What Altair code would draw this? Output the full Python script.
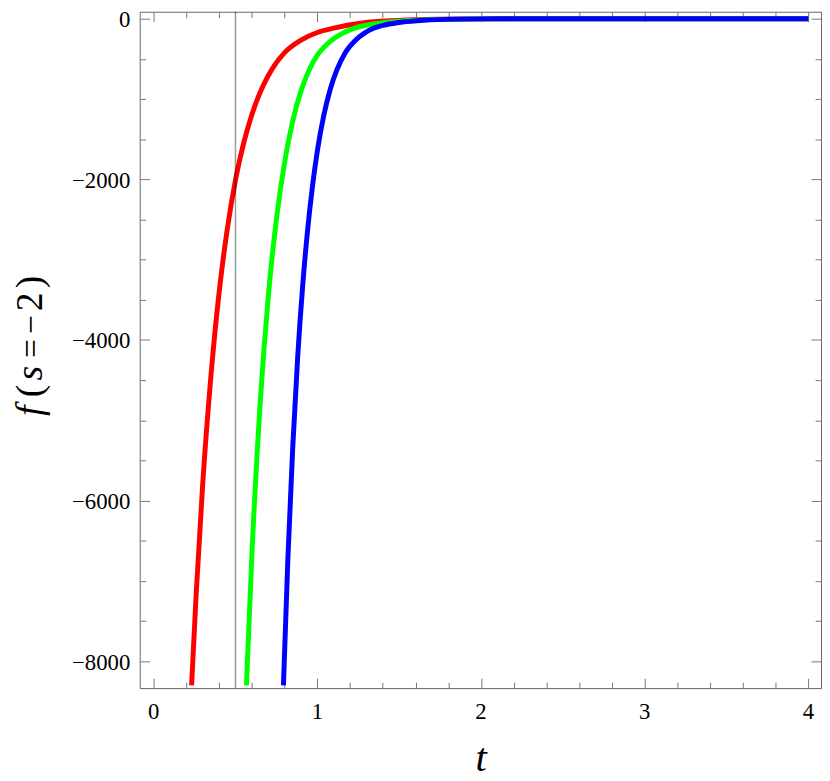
import altair as alt
import pandas as pd

# ---- data ----
red_t = [0.232, 0.26, 0.30, 0.35, 0.40, 0.45, 0.50, 0.55, 0.60, 0.65, 0.70, 0.75, 0.80,
         0.90, 1.00, 1.10, 1.25, 1.40, 1.60, 1.90, 2.50, 4.00]
red_f = [-8300, -7160, -5790, -4450, -3410, -2620, -2010, -1550, -1195, -921, -710, -548, -422,
         -267, -172, -118, -60, -31, -12, -3.2, -0.2, 0]

green_t = [0.567, 0.60, 0.65, 0.70, 0.75, 0.80, 0.85, 0.90, 0.95, 1.00, 1.05, 1.10, 1.15,
           1.22, 1.30, 1.40, 1.55, 1.75, 2.00, 2.50, 4.00]
green_f = [-8300, -6690, -4815, -3470, -2500, -1793, -1272, -902, -640, -454, -336, -250, -186,
           -123, -82, -50, -24, -8.7, -2.5, -0.3, 0]

blue_t = [0.793, 0.82, 0.85, 0.88, 0.91, 0.94, 0.97, 1.00, 1.04, 1.08, 1.12, 1.17, 1.23,
          1.29, 1.34, 1.42, 1.52, 1.65, 1.85, 2.10, 2.50, 4.00]
blue_f = [-8300, -6730, -5330, -4215, -3340, -2645, -2094, -1650, -1200, -872, -635, -427, -275,
          -177, -123, -76, -42, -19, -5.8, -1.8, -0.3, 0]

vline_t = [0.5]

x_labels = [0, 1, 2, 3, 4]
x_label_text = ["0", "1", "2", "3", "4"]
x_ticks = [0, 0.2, 0.4, 0.6, 0.8, 1, 1.2, 1.4, 1.6, 1.8, 2, 2.2, 2.4, 2.6, 2.8,
           3, 3.2, 3.4, 3.6, 3.8, 4]
y_labels = [0, -2000, -4000, -6000, -8000]
y_label_text = ["0", "−2000", "−4000", "−6000", "−8000"]
y_ticks = [0, -500, -1000, -1500, -2000, -2500, -3000, -3500, -4000, -4500,
           -5000, -5500, -6000, -6500, -7000, -7500, -8000]

x_title = "t"
# y title "f(s=−2)" in pieces: text, italic flag, font size, centre (px from page top)
y_title_parts = ["f", "(", "s", "=", "−", "2", ")"]
y_title_italic = [True, False, True, False, False, False, False]
y_title_size = [38, 38, 38, 34, 34, 38, 38]
y_title_pos = [411, 391, 373, 348, 324, 301, 281]

X_DOMAIN = [-0.085, 4.077]
Y_DOMAIN = [-8333, 86]
W, H = 688, 683
PLOT_LEFT, PLOT_TOP = 141, 8
FONT = "Liberation Serif"
TICK_COLOR = "#777777"

red_df = pd.DataFrame({"t": red_t, "f": red_f})
green_df = pd.DataFrame({"t": green_t, "f": green_f})
blue_df = pd.DataFrame({"t": blue_t, "f": blue_f})
all_df = pd.concat([red_df, green_df, blue_df], ignore_index=True)
vline_df = pd.DataFrame({"t": vline_t})
xlab_df = pd.DataFrame({"t": x_labels, "label": x_label_text})
ylab_df = pd.DataFrame({"f": y_labels, "label": y_label_text})

xs = alt.Scale(domain=X_DOMAIN, nice=False, zero=False)
ys = alt.Scale(domain=Y_DOMAIN, nice=False, zero=False)

x_tick_size = {"condition": {"test": "datum.value % 1 === 0", "value": 10}, "value": 6}
y_tick_size = {"condition": {"test": "datum.value % 2000 === 0", "value": 10}, "value": 6}

# inward tick axes: bottom & left edges
x_tick_in_bottom = alt.Axis(orient="top", offset=-H, values=x_ticks, labels=False, domain=False,
                            grid=False, title=None, tickColor=TICK_COLOR, tickWidth=1,
                            tickSize=x_tick_size)
y_tick_in_left = alt.Axis(orient="right", offset=-W, values=y_ticks, labels=False, domain=False,
                          grid=False, title=None, tickColor=TICK_COLOR, tickWidth=1,
                          tickSize=y_tick_size)
# inward tick axes: top & right edges
x_tick_in_top = alt.Axis(orient="bottom", offset=-H, values=x_ticks, labels=False, domain=False,
                         grid=False, title=None, tickColor=TICK_COLOR, tickWidth=1,
                         tickSize=x_tick_size)
y_tick_in_right = alt.Axis(orient="left", offset=-W, values=y_ticks, labels=False, domain=False,
                           grid=False, title=None, tickColor=TICK_COLOR, tickWidth=1,
                           tickSize=y_tick_size)


def curve(df, color):
    return alt.Chart(df).mark_line(strokeWidth=5, interpolate="monotone", clip=True,
                                   color=color).encode(
        x=alt.X("t:Q", scale=xs, axis=None),
        y=alt.Y("f:Q", scale=ys, axis=None),
    )


red_line = curve(red_df, "#ff0000")
green_line = curve(green_df, "#00ff00")
blue_line = curve(blue_df, "#0000ff")

vline = alt.Chart(vline_df).mark_rule(color="black", opacity=0.4, strokeWidth=1.5).encode(
    x=alt.X("t:Q", scale=xs, axis=None)
)

ticks_a = alt.Chart(all_df).mark_point(opacity=0).encode(
    x=alt.X("t:Q", scale=xs, axis=x_tick_in_bottom),
    y=alt.Y("f:Q", scale=ys, axis=y_tick_in_left),
)
ticks_b = alt.Chart(all_df).mark_point(opacity=0).encode(
    x=alt.X("t:Q", scale=xs, axis=x_tick_in_top),
    y=alt.Y("f:Q", scale=ys, axis=y_tick_in_right),
)

# tick labels as text through the scales
x_lab = alt.Chart(xlab_df).mark_text(font=FONT, fontSize=23, color="black", align="center",
                                     baseline="alphabetic").encode(
    x=alt.X("t:Q", scale=xs, axis=None), y=alt.value(H + 30.7), text="label:N")
y_lab = alt.Chart(ylab_df).mark_text(font=FONT, fontSize=23, color="black", align="right",
                                     baseline="middle", dy=1.5).encode(
    y=alt.Y("f:Q", scale=ys, axis=None), x=alt.value(-9.5), text="label:N")

# axis titles
x_ttl = alt.Chart(pd.DataFrame({"label": [x_title]})).mark_text(
    font=FONT, fontSize=41, fontStyle="italic", color="black", align="center",
    baseline="alphabetic").encode(x=alt.value(485.7 - PLOT_LEFT), y=alt.value(775 - PLOT_TOP),
                                  text="label:N")

y_ttl_layers = []
for part, ital, size, pos in zip(y_title_parts, y_title_italic, y_title_size, y_title_pos):
    y_ttl_layers.append(
        alt.Chart(pd.DataFrame({"label": [part]})).mark_text(
            font=FONT, fontSize=size, fontStyle="italic" if ital else "normal", color="black",
            align="center", baseline="alphabetic", angle=270
        ).encode(x=alt.value(42.5 - PLOT_LEFT), y=alt.value(pos - PLOT_TOP), text="label:N")
    )

chart = alt.layer(
    red_line, green_line, blue_line, vline, ticks_a, ticks_b, x_lab, y_lab, x_ttl, *y_ttl_layers
).resolve_axis(
    x="independent", y="independent"
).properties(
    width=W, height=H,
    autosize=alt.AutoSizeParams(type="none"),
    padding={"left": 133, "top": 0, "right": 1, "bottom": 89},
    background="white",
).configure_view(
    stroke="#666666", strokeWidth=1
)

chart.save("out.html", embed_options={"renderer": "svg", "actions": False})
